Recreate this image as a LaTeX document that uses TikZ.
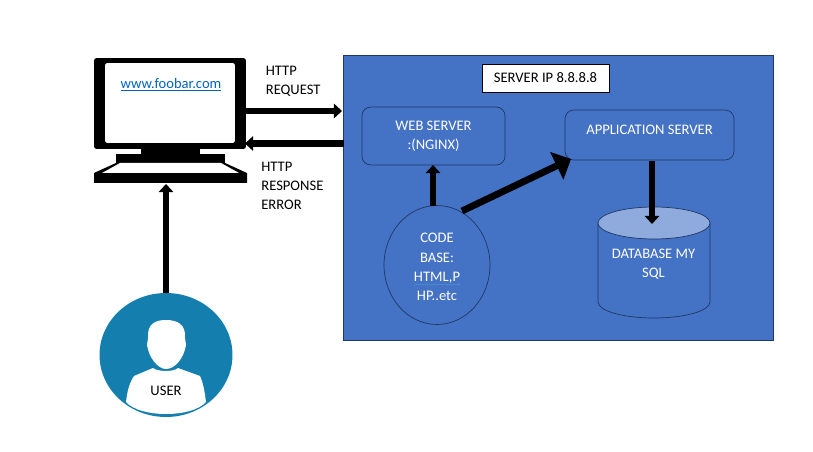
\documentclass[tikz,border=0pt]{standalone}
\usepackage{fontspec}
\setmainfont{Carlito}
\usepackage{xcolor}
\usetikzlibrary{arrows.meta, shapes.geometric, decorations.pathmorphing}
\definecolor{serverblue}{HTML}{4472C4}
\definecolor{edgeblue}{HTML}{1F3864}
\definecolor{lightblue}{HTML}{8FAADC}
\definecolor{userblue}{HTML}{147FAE}
\definecolor{linkblue}{HTML}{0563C1}
\tikzset{
	label text/.style={font=\fontsize{8.3}{11}\selectfont, align=center, inner sep=0pt},
	side text/.style={label text, align=left, anchor=west, text=black},
	inner box/.style={draw=edgeblue, fill=serverblue, rounded corners=5pt, line width=0.4pt, text=white, label text, outer sep=0pt},
	bold arrow/.style={line width=3.9pt, -{Triangle[length=4.6pt,width=8.2pt]}},
	black part/.style={fill=black, draw=none, inner sep=0pt, outer sep=0pt}
}
\begin{document}
\begin{tikzpicture}[x=0.02cm,y=-0.02cm]
	\useasboundingbox (0,0) rectangle (813,452);
	% server side
	\node[draw=edgeblue, fill=serverblue, line width=0.5pt, minimum width=8.6cm, minimum height=5.7cm, inner sep=0pt, outer sep=0pt] (server) at (558.75,197.5) {};
	\node[draw=black, fill=white, line width=0.45pt, minimum width=2.54cm, minimum height=0.56cm, label text, outer sep=0pt] (ip) at (545.5,78) {SERVER IP 8.8.8.8};
	\node[inner box, minimum width=2.86cm, minimum height=1.16cm] (web) at (433.5,136) {WEB SERVER\\:(NGINX)};
	\node[inner box, minimum width=3.38cm, minimum height=1cm] (app) at (649.5,135) {\raisebox{6pt}{APPLICATION SERVER}};
	\node[draw=edgeblue, fill=serverblue, ellipse, line width=0.4pt, minimum width=2.12cm, minimum height=2.38cm, label text, text=white, outer sep=0pt] (code) at (437,265) {\rule{0pt}{8pt}CODE\\BASE:\\HTML,P\\HP..etc};
	\draw[draw=edgeblue, fill=serverblue, line width=0.4pt] (598,223) -- (598,302) arc[start angle=180, end angle=0, x radius=56, y radius=16] -- (710,223) -- cycle;
	\draw[draw=edgeblue, fill=lightblue, line width=0.4pt] (654,223) ellipse[x radius=56, y radius=16];
	\node[label text, text=white] (dbtext) at (653.5,264) {DATABASE MY\\SQL};
	\draw[decorate, decoration={snake, amplitude=0.25pt, segment length=2.5pt}, linkblue!70!white, line width=0.3pt] (414,284.5) -- (460,284.5);
	% monitor
	\node[black part, rounded corners=1.5pt, minimum width=3.04cm, minimum height=1.82cm] (monitor) at (170,103.5) {};
	\node[fill=white, rounded corners=1pt, inner sep=0pt, minimum width=2.6cm, minimum height=1.6cm] (screen) at (170,103) {};
	\node[font=\fontsize{8.3}{11}\selectfont, text=linkblue, inner sep=0pt] (site) at (171,85) {\underline{www.foobar.com}};
	\node[black part, minimum width=1.18cm, minimum height=0.14cm] (neck) at (170.5,152) {};
	\node[black part, minimum width=2.18cm, minimum height=0.18cm] (stand) at (170.5,158.5) {};
	\fill[black] (116,163) -- (94,173) -- (94,183) -- (247,183) -- (247,173) -- (225,163) -- cycle;
	\fill[white] (120,163) -- (221,163) -- (239,173) -- (102,173) -- cycle;
	\coordinate (keyboard) at (166,184);
	% user
	\node[ellipse, fill=userblue, minimum width=2.66cm, minimum height=2.48cm, inner sep=0pt, outer sep=0pt] (user) at (166,355) {};
	\fill[white] (153,368) -- (134,376) .. controls (128,385) and (127,395) .. (126,402) .. controls (140,418) and (192,418) .. (206,402) .. controls (205,395) and (204,385) .. (200,376) -- (178,368) .. controls (174,372) and (158,372) .. (153,368) -- cycle;
	\fill[white] (166,320) .. controls (155,320) and (147,324) .. (148,338) -- (147,345) .. controls (149,358) and (158,369) .. (166,369) .. controls (175,369) and (184,358) .. (186,345) -- (185,338) .. controls (186,324) and (177,320) .. (166,320) -- cycle;
	\node[label text, text=black] (usertext) at (166,391) {USER};
	% texts beside the arrows
	\node[side text] (req) at (265.5,81.5) {HTTP\\REQUEST};
	\node[side text] (resp) at (261,186) {HTTP\\RESPONSE\\ERROR};
	% arrows
	\coordinate (reqstart) at (246,111);
	\coordinate (reqend) at (342,111);
	\coordinate (respstart) at (344,143.5);
	\coordinate (respend) at (245,143.5);
	\coordinate (codeweb) at (433,206);
	\coordinate (codeapp) at (462,211);
	\coordinate (appin) at (571,159);
	\coordinate (appout) at (652,161);
	\coordinate (dbin) at (652,224);
	\draw[bold arrow] (reqstart) -- (reqend);
	\draw[bold arrow] (respstart) -- (respend);
	\draw[bold arrow] (user.north) -- (keyboard);
	\draw[bold arrow] (codeweb) -- (web.south -| codeweb);
	\draw[line width=3.9pt, -{Triangle[length=9pt,width=17pt]}] (codeapp) -- (appin);
	\draw[bold arrow] (appout) -- (dbin);
\end{tikzpicture}
\end{document}
